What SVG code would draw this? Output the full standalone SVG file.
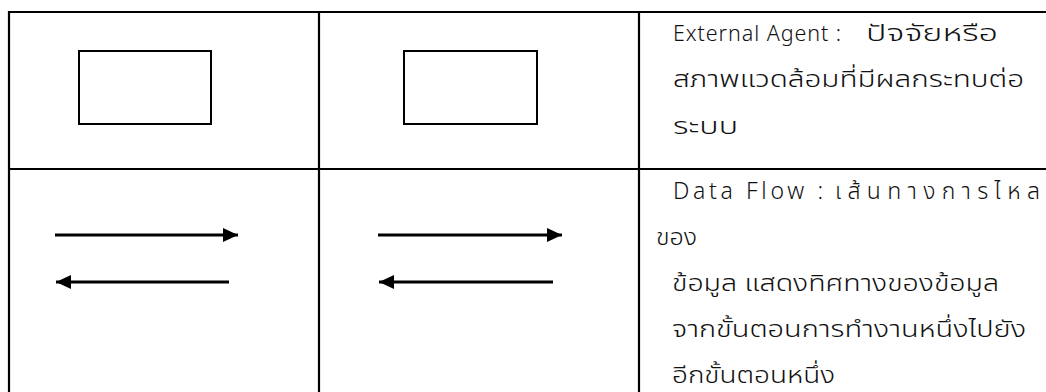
<svg xmlns="http://www.w3.org/2000/svg" width="1046" height="392" viewBox="0 0 1046 392">
<style>
.grid{stroke:#000;stroke-width:2.2;fill:none}
.box{stroke:#000;stroke-width:2;fill:#fff}
.flow{stroke:#000;stroke-width:3;fill:none}
.t{font-family:"Noto Sans","Noto Sans Thai","Leelawadee UI",sans-serif;font-size:21.5px;font-weight:300;fill:#111}
.th{font-size:23px;font-weight:300}
.lg{font-size:23px}
</style>
<defs>
<marker id="ah" markerUnits="userSpaceOnUse" markerWidth="16" markerHeight="16" viewBox="0 0 16 16" refX="15" refY="8" orient="auto">
<path d="M0,1 L15,8 L0,15 Z" fill="#000"/>
</marker>
</defs>
<rect width="1046" height="392" fill="#fff"/>
<g id="table">
<line class="grid" x1="9" y1="12" x2="1046" y2="12"/>
<line class="grid" x1="9" y1="169" x2="1046" y2="169"/>
<line class="grid" x1="9" y1="11" x2="9" y2="392"/>
<line class="grid" x1="319" y1="11" x2="319" y2="392"/>
<line class="grid" x1="639" y1="11" x2="639" y2="392"/>
</g>
<g id="agent1"><rect class="box" x="79" y="51" width="132" height="73"/></g>
<g id="agent2"><rect class="box" x="404" y="51" width="133" height="73"/></g>
<g id="agent-desc">
<text class="t" x="673" y="41" textLength="168" lengthAdjust="spacing">External Agent :</text>
<text class="t th" x="866" y="41" textLength="132" lengthAdjust="spacingAndGlyphs">ปัจจัยหรือ</text>
<text class="t th" x="673" y="87" textLength="351" lengthAdjust="spacingAndGlyphs">สภาพแวดล้อมที่มีผลกระทบต่อ</text>
<text class="t th" x="673" y="134" textLength="65" lengthAdjust="spacingAndGlyphs">ระบบ</text>
</g>
<g id="flow-desc">
<text class="t lg" x="673" y="199" textLength="150" lengthAdjust="spacing">Data Flow :</text>
<text class="t th" x="835" y="199" textLength="205" lengthAdjust="spacing">เส้นทางการไหล</text>
<text class="t th" x="656" y="245" textLength="41" lengthAdjust="spacingAndGlyphs">ของ</text>
<text class="t th" x="672" y="291" textLength="327" lengthAdjust="spacingAndGlyphs">ข้อมูล แสดงทิศทางของข้อมูล</text>
<text class="t th" x="672" y="337" textLength="354" lengthAdjust="spacingAndGlyphs">จากขั้นตอนการทำงานหนึ่งไปยัง</text>
<text class="t th" x="672" y="383" textLength="163" lengthAdjust="spacingAndGlyphs">อีกขั้นตอนหนึ่ง</text>
</g>
<g id="connectors">
<line class="flow" x1="55" y1="235" x2="238" y2="235" marker-end="url(#ah)"/>
<line class="flow" x1="229" y1="282" x2="56" y2="282" marker-end="url(#ah)"/>
<line class="flow" x1="378" y1="235" x2="562" y2="235" marker-end="url(#ah)"/>
<line class="flow" x1="553" y1="282" x2="379" y2="282" marker-end="url(#ah)"/>
</g>
</svg>
